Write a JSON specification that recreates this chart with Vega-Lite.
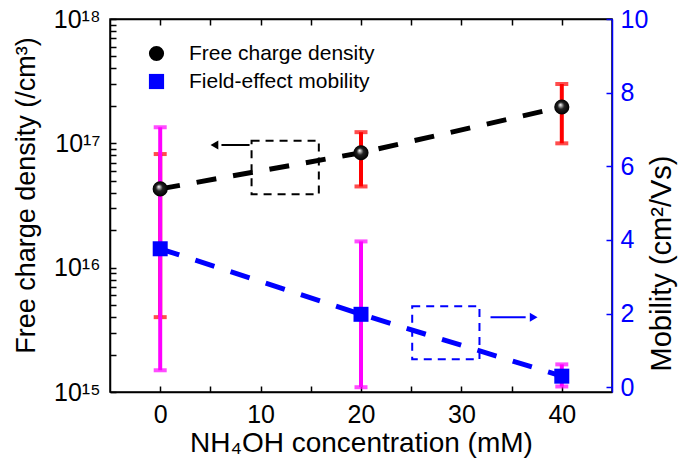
{
  "$schema": "https://vega.github.io/schema/vega-lite/v6.json",
  "width": 502,
  "height": 373,
  "autosize": "none",
  "padding": {"left": 110, "top": 19, "right": 73, "bottom": 74},
  "config": {
    "font": "Liberation Sans",
    "view": {"stroke": "black", "strokeWidth": 1.5},
    "axis": {"grid": false, "labelFont": "Liberation Sans", "titleFont": "Liberation Sans", "titleFontWeight": "normal", "labelOverlap": false, "labelFlush": false}
  },
  "datasets": {
    "density": [
      {"conc": 0, "density": 4.3e16, "lo": 4.0e15, "hi": 8.2e16},
      {"conc": 20, "density": 8.4e16, "lo": 4.5e16, "hi": 1.23e17},
      {"conc": 40, "density": 1.96e17, "lo": 1.0e17, "hi": 3.0e17}
    ],
    "mobility": [
      {"conc": 0, "mob": 3.76, "lo": 0.46, "hi": 7.06},
      {"conc": 20, "mob": 1.98, "lo": 0.0, "hi": 3.96},
      {"conc": 40, "mob": 0.30, "lo": 0.02, "hi": 0.62}
    ],
    "dbox": [{"x1": 9.1, "x2": 15.8, "y1": 3.9e16, "y2": 1.05e17}],
    "darrow": [{"x1": 8.9, "x2": 6.1, "y": 9.7e16, "head": 5.4}],
    "mbox": [{"x1": 25.1, "x2": 31.8, "y1": 0.76, "y2": 2.2}],
    "marrow": [{"x1": 32.9, "x2": 36.4, "y": 1.9, "head": 37.2}]
  },
  "resolve": {"scale": {"y": "independent"}, "axis": {"x": "independent"}},
  "layer": [
    {
      "layer": [
        {
          "data": {"name": "density"},
          "mark": {"type": "line", "color": "black", "strokeWidth": 5, "strokeDash": [20, 17]},
          "encoding": {
            "x": {"field": "conc", "type": "quantitative", "scale": {"domain": [-5, 45]},
              "axis": {"orient": "bottom", "values": [0, 5, 10, 15, 20, 25, 30, 35, 40],
                "labelExpr": "datum.value % 10 === 0 ? datum.label : ''",
                "tickSize": -6, "tickWidth": 1.5, "tickColor": "black", "domainColor": "black", "domainWidth": 1.5,
                "labelFontSize": 25, "labelColor": "black", "labelPadding": 16,
                "title": "NH₄OH concentration (mM)", "titleFontSize": 28, "titleColor": "black", "titlePadding": 2}},
            "y": {"field": "density", "type": "quantitative", "scale": {"type": "log", "domain": [1e15, 1e18]},
              "axis": {"orient": "left",
                "values": [1e15, 2e15, 3e15, 4e15, 5e15, 6e15, 7e15, 8e15, 9e15, 1e16, 2e16, 3e16, 4e16, 5e16, 6e16, 7e16, 8e16, 9e16, 1e17, 2e17, 3e17, 4e17, 5e17, 6e17, 7e17, 8e17, 9e17, 1e18],
                "labelExpr": "datum.value == 1e15 ? '10¹⁵' : datum.value == 1e16 ? '10¹⁶' : datum.value == 1e17 ? '10¹⁷' : datum.value == 1e18 ? '10¹⁸' : ''",
                "tickSize": -6, "tickWidth": 1.5, "tickColor": "black", "domainColor": "black", "domainWidth": 1.5,
                "labelFontSize": 25, "labelColor": "black", "labelPadding": 16,
                "title": "Free charge density (/cm³)", "titleFontSize": 27, "titleColor": "black", "titlePadding": 13, "titleY": 176}}
          }
        },
        {
          "data": {"name": "density"},
          "mark": {"type": "rule", "color": "red", "strokeWidth": 4},
          "encoding": {
            "x": {"field": "conc", "type": "quantitative"},
            "y": {"field": "lo", "type": "quantitative"},
            "y2": {"field": "hi"}
          }
        },
        {
          "data": {"name": "density"},
          "mark": {"type": "tick", "orient": "horizontal", "color": "red", "size": 13, "thickness": 4},
          "encoding": {
            "x": {"field": "conc", "type": "quantitative"},
            "y": {"field": "lo", "type": "quantitative"}
          }
        },
        {
          "data": {"name": "density"},
          "mark": {"type": "tick", "orient": "horizontal", "color": "red", "size": 13, "thickness": 4},
          "encoding": {
            "x": {"field": "conc", "type": "quantitative"},
            "y": {"field": "hi", "type": "quantitative"}
          }
        },
        {
          "data": {"name": "dbox"},
          "mark": {"type": "rect", "fill": null, "fillOpacity": 0, "stroke": "black", "strokeWidth": 2, "strokeDash": [8, 6]},
          "encoding": {
            "x": {"field": "x1", "type": "quantitative"},
            "x2": {"field": "x2"},
            "y": {"field": "y1", "type": "quantitative"},
            "y2": {"field": "y2"}
          }
        },
        {
          "data": {"name": "darrow"},
          "mark": {"type": "rule", "color": "black", "strokeWidth": 2},
          "encoding": {
            "x": {"field": "x1", "type": "quantitative"},
            "x2": {"field": "x2"},
            "y": {"field": "y", "type": "quantitative"}
          }
        },
        {
          "data": {"name": "darrow"},
          "mark": {"type": "point", "shape": "triangle-left", "filled": true, "color": "black", "size": 80, "opacity": 1},
          "encoding": {
            "x": {"field": "head", "type": "quantitative"},
            "y": {"field": "y", "type": "quantitative"}
          }
        }
      ]
    },
    {
      "layer": [
        {
          "data": {"name": "mobility"},
          "mark": {"type": "line", "color": "blue", "strokeWidth": 5, "strokeDash": [20, 17]},
          "encoding": {
            "x": {"field": "conc", "type": "quantitative",
              "axis": {"orient": "top", "values": [0, 5, 10, 15, 20, 25, 30, 35, 40], "labels": false,
                "tickSize": -6, "tickWidth": 1.5, "tickColor": "black", "domainColor": "black", "domainWidth": 1.5, "title": null}},
            "y": {"field": "mob", "type": "quantitative", "scale": {"domain": [-0.13, 10], "nice": false, "zero": false},
              "axis": {"orient": "right", "values": [0, 1, 2, 3, 4, 5, 6, 7, 8, 9, 10],
                "labelExpr": "datum.value % 2 === 0 ? datum.label : ''",
                "tickSize": -6, "tickWidth": 1.5, "tickColor": "blue", "domainColor": "blue", "domainWidth": 1.5,
                "labelFontSize": 25, "labelColor": "blue", "labelPadding": 14,
                "title": "Mobility (cm²/Vs)", "titleFontSize": 29, "titleColor": "black", "titleAngle": 270, "titlePadding": 29, "titleY": 244}}
          }
        },
        {
          "data": {"name": "mobility"},
          "mark": {"type": "rule", "color": "#ff00ff", "strokeWidth": 4},
          "encoding": {
            "x": {"field": "conc", "type": "quantitative"},
            "y": {"field": "lo", "type": "quantitative"},
            "y2": {"field": "hi"}
          }
        },
        {
          "data": {"name": "mobility"},
          "mark": {"type": "tick", "orient": "horizontal", "color": "#ff00ff", "size": 13, "thickness": 4},
          "encoding": {
            "x": {"field": "conc", "type": "quantitative"},
            "y": {"field": "lo", "type": "quantitative"}
          }
        },
        {
          "data": {"name": "mobility"},
          "mark": {"type": "tick", "orient": "horizontal", "color": "#ff00ff", "size": 13, "thickness": 4},
          "encoding": {
            "x": {"field": "conc", "type": "quantitative"},
            "y": {"field": "hi", "type": "quantitative"}
          }
        },
        {
          "data": {"name": "mbox"},
          "mark": {"type": "rect", "fill": null, "fillOpacity": 0, "stroke": "blue", "strokeWidth": 2, "strokeDash": [8, 6]},
          "encoding": {
            "x": {"field": "x1", "type": "quantitative"},
            "x2": {"field": "x2"},
            "y": {"field": "y1", "type": "quantitative"},
            "y2": {"field": "y2"}
          }
        },
        {
          "data": {"name": "marrow"},
          "mark": {"type": "rule", "color": "blue", "strokeWidth": 2},
          "encoding": {
            "x": {"field": "x1", "type": "quantitative"},
            "x2": {"field": "x2"},
            "y": {"field": "y", "type": "quantitative"}
          }
        },
        {
          "data": {"name": "marrow"},
          "mark": {"type": "point", "shape": "triangle-right", "filled": true, "color": "blue", "size": 80, "opacity": 1},
          "encoding": {
            "x": {"field": "head", "type": "quantitative"},
            "y": {"field": "y", "type": "quantitative"}
          }
        },
        {
          "data": {"name": "mobility"},
          "transform": [{"calculate": "'Field-effect mobility'", "as": "series"}],
          "mark": {"type": "point", "filled": true, "size": 225, "opacity": 1},
          "encoding": {
            "x": {"field": "conc", "type": "quantitative"},
            "y": {"field": "mob", "type": "quantitative"},
            "color": {"field": "series", "type": "nominal",
              "scale": {"domain": ["Free charge density", "Field-effect mobility"], "range": ["black", "blue"]},
              "legend": {"orient": "none", "legendX": 36, "legendY": 24, "title": null, "labelFontSize": 21, "labelColor": "black", "labelLimit": 0, "symbolSize": 230, "rowPadding": 6, "labelOffset": 22, "padding": 0, "symbolStrokeWidth": 0}},
            "shape": {"field": "series", "type": "nominal",
              "scale": {"domain": ["Free charge density", "Field-effect mobility"], "range": ["circle", "square"]},
              "legend": {"orient": "none", "legendX": 36, "legendY": 24, "title": null, "labelFontSize": 21, "labelColor": "black", "labelLimit": 0, "symbolSize": 230, "rowPadding": 6, "labelOffset": 22, "padding": 0, "symbolStrokeWidth": 0}}
          }
        }
      ]
    },
    {
      "data": {"name": "density"},
      "transform": [{"calculate": "'Free charge density'", "as": "series"}],
      "mark": {"type": "point", "filled": true, "size": 230, "opacity": 1,
        "fill": {"gradient": "radial", "x1": 0.4, "y1": 0.35, "r1": 0, "x2": 0.5, "y2": 0.5, "r2": 0.5,
          "stops": [{"offset": 0, "color": "#ffffff"}, {"offset": 0.15, "color": "#bbbbbb"}, {"offset": 0.45, "color": "#222222"}, {"offset": 1, "color": "#000000"}]}},
      "encoding": {
        "x": {"field": "conc", "type": "quantitative", "axis": null},
        "y": {"field": "density", "type": "quantitative", "scale": {"type": "log", "domain": [1e15, 1e18]}, "axis": null},
        "color": {"field": "series", "type": "nominal"},
        "shape": {"field": "series", "type": "nominal"}
      }
    }
  ]
}
